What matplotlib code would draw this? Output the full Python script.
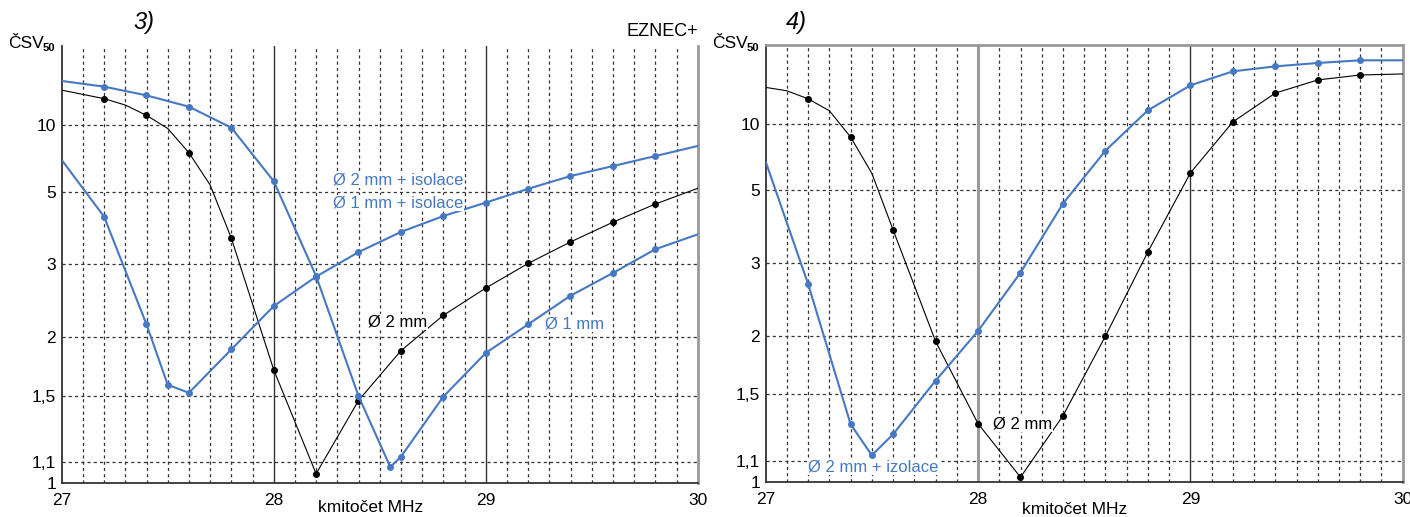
import numpy as np
import matplotlib.pyplot as plt

plt.rcParams['font.family'] = ['Liberation Sans', 'DejaVu Sans']

# ---- data (SWR vs. frequency in MHz) ----
# panel 3)
f3_black = [27.0, 27.2, 27.3, 27.4, 27.5, 27.6, 27.7, 27.8, 28.0, 28.2, 28.4,
            28.6, 28.8, 29.0, 29.2, 29.4, 29.6, 29.8, 30.0]
s3_black = [18.8, 15.6, 13.8, 11.6, 9.6, 7.19, 5.29, 3.55, 1.70, 1.043, 1.465,
            1.868, 2.245, 2.61, 3.02, 3.46, 3.96, 4.53, 5.14]
m3_black = [1, 3, 5, 7, 8, 9, 10, 11, 12, 13, 14, 15, 16, 17]

f3_blue1 = [27.0, 27.2, 27.4, 27.6, 27.8, 28.0, 28.2, 28.4, 28.55, 28.6, 28.8,
            29.0, 29.2, 29.4, 29.6, 29.8, 30.0]
s3_blue1 = [24.0, 20.5, 16.7, 13.4, 9.7, 5.47, 2.80, 1.497, 1.076, 1.128, 1.492,
            1.847, 2.14, 2.50, 2.85, 3.30, 3.64]

f3_blue2 = [27.0, 27.2, 27.4, 27.5, 27.6, 27.8, 28.0, 28.2, 28.4, 28.6, 28.8,
            29.0, 29.2, 29.4, 29.6, 29.8, 30.0]
s3_blue2 = [6.67, 4.12, 2.14, 1.58, 1.52, 1.88, 2.36, 2.79, 3.24, 3.70, 4.14,
            4.58, 5.12, 5.72, 6.28, 6.94, 7.74]

# panel 4)
f4_black = [27.0, 27.1, 27.2, 27.3, 27.4, 27.5, 27.6, 27.8, 28.0, 28.2, 28.4,
            28.6, 28.8, 29.0, 29.2, 29.4, 29.6, 29.8, 30.0]
s4_black = [19.4, 17.9, 15.1, 12.2, 8.45, 5.79, 3.72, 1.948, 1.308, 1.022, 1.357,
            2.0, 3.22, 5.81, 10.3, 17.0, 23.7, 27.7, 28.7]
m4_black = [2, 4, 6, 7, 8, 9, 10, 11, 12, 13, 14, 15, 16, 17]

f4_blue = [27.0, 27.2, 27.4, 27.5, 27.6, 27.8, 28.0, 28.2, 28.4, 28.6, 28.8,
           29.0, 29.2, 29.4, 29.6, 29.8, 30.0]
s4_blue = [6.47, 2.65, 1.304, 1.130, 1.245, 1.603, 2.054, 2.835, 4.50, 7.24, 12.3,
           20.4, 31.6, 39.0, 46.3, 54.3, 54.3]

y_ticks = [1, 1.1, 1.5, 2, 3, 5, 10]
y_labels = ['1', '1,1', '1,5', '2', '3', '5', '10']
x_ticks = [27, 28, 29, 30]

BLUE = '#4678c3'
W, H = 1410, 517


def fwd(s):
    s = np.asarray(s, dtype=float)
    return (s - 1) / (s + 1)


def inv(r):
    r = np.clip(np.asarray(r, dtype=float), -0.999999, 0.999999)
    return (1 + r) / (1 - r)


def setup(ax, heavy28):
    ax.set_yscale('function', functions=(fwd, inv))
    ax.set_xlim(27, 30)
    ax.set_ylim(1, 1e7)
    ax.set_yticks(y_ticks)
    ax.set_yticklabels(y_labels)
    ax.set_xticks(x_ticks)
    ax.set_xticklabels([str(t) for t in x_ticks])
    ax.yaxis.set_minor_locator(plt.NullLocator())
    ax.tick_params(axis='y', length=0, labelsize=12.5, pad=4)
    ax.tick_params(axis='x', length=0, labelsize=12.5, pad=7)
    for yt in y_ticks[1:]:
        ax.axhline(yt, color='#333333', lw=0.9, ls=(0, (2.5, 2.5)), zorder=1)
    for xv in np.arange(27.1, 30.0, 0.1):
        if abs(xv - 28) < 0.01 or abs(xv - 29) < 0.01:
            continue
        ax.axvline(xv, color='#333333', lw=0.9, ls=(0, (2.5, 2.5)), zorder=1)
    if heavy28:
        ax.axvline(28, color='#9a9a9a', lw=2.2, zorder=1)
    else:
        ax.axvline(28, color='#333333', lw=1.0, zorder=1)
    ax.axvline(29, color='#333333', lw=1.0, zorder=1)
    for sp in ['left', 'bottom']:
        ax.spines[sp].set_color('#333333')
        ax.spines[sp].set_linewidth(1.3)
    ax.spines['right'].set_color('#999999')
    ax.spines['right'].set_linewidth(2)
    ax.spines['top'].set_color('#999999')
    ax.spines['top'].set_linewidth(2)


fig = plt.figure(figsize=(W / 100, H / 100), dpi=100)
ax3 = fig.add_axes([61.7 / W, 1 - 483 / H, 636 / W, 437 / H])
ax4 = fig.add_axes([765.7 / W, 1 - 482 / H, 637 / W, 437.5 / H])
setup(ax3, False)
setup(ax4, True)
ax3.spines['top'].set_visible(False)

ax3.plot(f3_black, s3_black, color='black', lw=0.8, marker='o', ms=4,
         markevery=m3_black, zorder=3)
ax3.plot(f3_blue1, s3_blue1, color=BLUE, lw=1.5, marker='o', ms=4,
         markevery=list(range(1, len(f3_blue1) - 1)), zorder=3)
ax3.plot(f3_blue2, s3_blue2, color=BLUE, lw=1.5, marker='o', ms=4,
         markevery=list(range(1, len(f3_blue2) - 1)), zorder=3)

ax4.plot(f4_black, s4_black, color='black', lw=0.8, marker='o', ms=4,
         markevery=m4_black, zorder=3)
ax4.plot(f4_blue, s4_blue, color=BLUE, lw=1.5, marker='o', ms=4,
         markevery=list(range(1, len(f4_blue) - 1)), zorder=3)


def ftext(x, y, s, **kw):
    fig.text(x / W, 1 - y / H, s, **kw)


# panel titles and axis labels
ftext(133, 22, '3)', fontsize=17, style='italic', va='center')
ftext(786, 22, '4)', fontsize=17, style='italic', va='center')
ftext(698, 32, 'EZNEC+', fontsize=13, ha='right', va='center')
for x0 in (8, 712):
    ftext(x0, 43, 'ČSV', fontsize=12.5, va='center')
    ftext(x0 + 35, 48, '50', fontsize=8, weight='bold', va='center')
ftext(318, 507, 'kmitočet MHz', fontsize=12.5, va='center')
ftext(1022, 510, 'kmitočet MHz', fontsize=12.5, va='center')

# curve labels (white backing hides the grid behind the text)
box = dict(facecolor='white', edgecolor='none', pad=0.6)
ftext(333, 180, 'Ø 2 mm + isolace', fontsize=12, color=BLUE, va='center', bbox=box)
ftext(333, 203, 'Ø 1 mm + isolace', fontsize=12, color=BLUE, va='center', bbox=box)
ftext(368, 322, 'Ø 2 mm', fontsize=12, color='black', va='center', bbox=box)
ftext(545, 324, 'Ø 1 mm', fontsize=12, color=BLUE, va='center', bbox=box)
ftext(993, 424, 'Ø 2 mm', fontsize=12, color='black', va='center', bbox=box)
ftext(808, 467, 'Ø 2 mm + izolace', fontsize=12, color=BLUE, va='center', bbox=box)

fig.savefig('out.png', dpi=100, facecolor='white')
